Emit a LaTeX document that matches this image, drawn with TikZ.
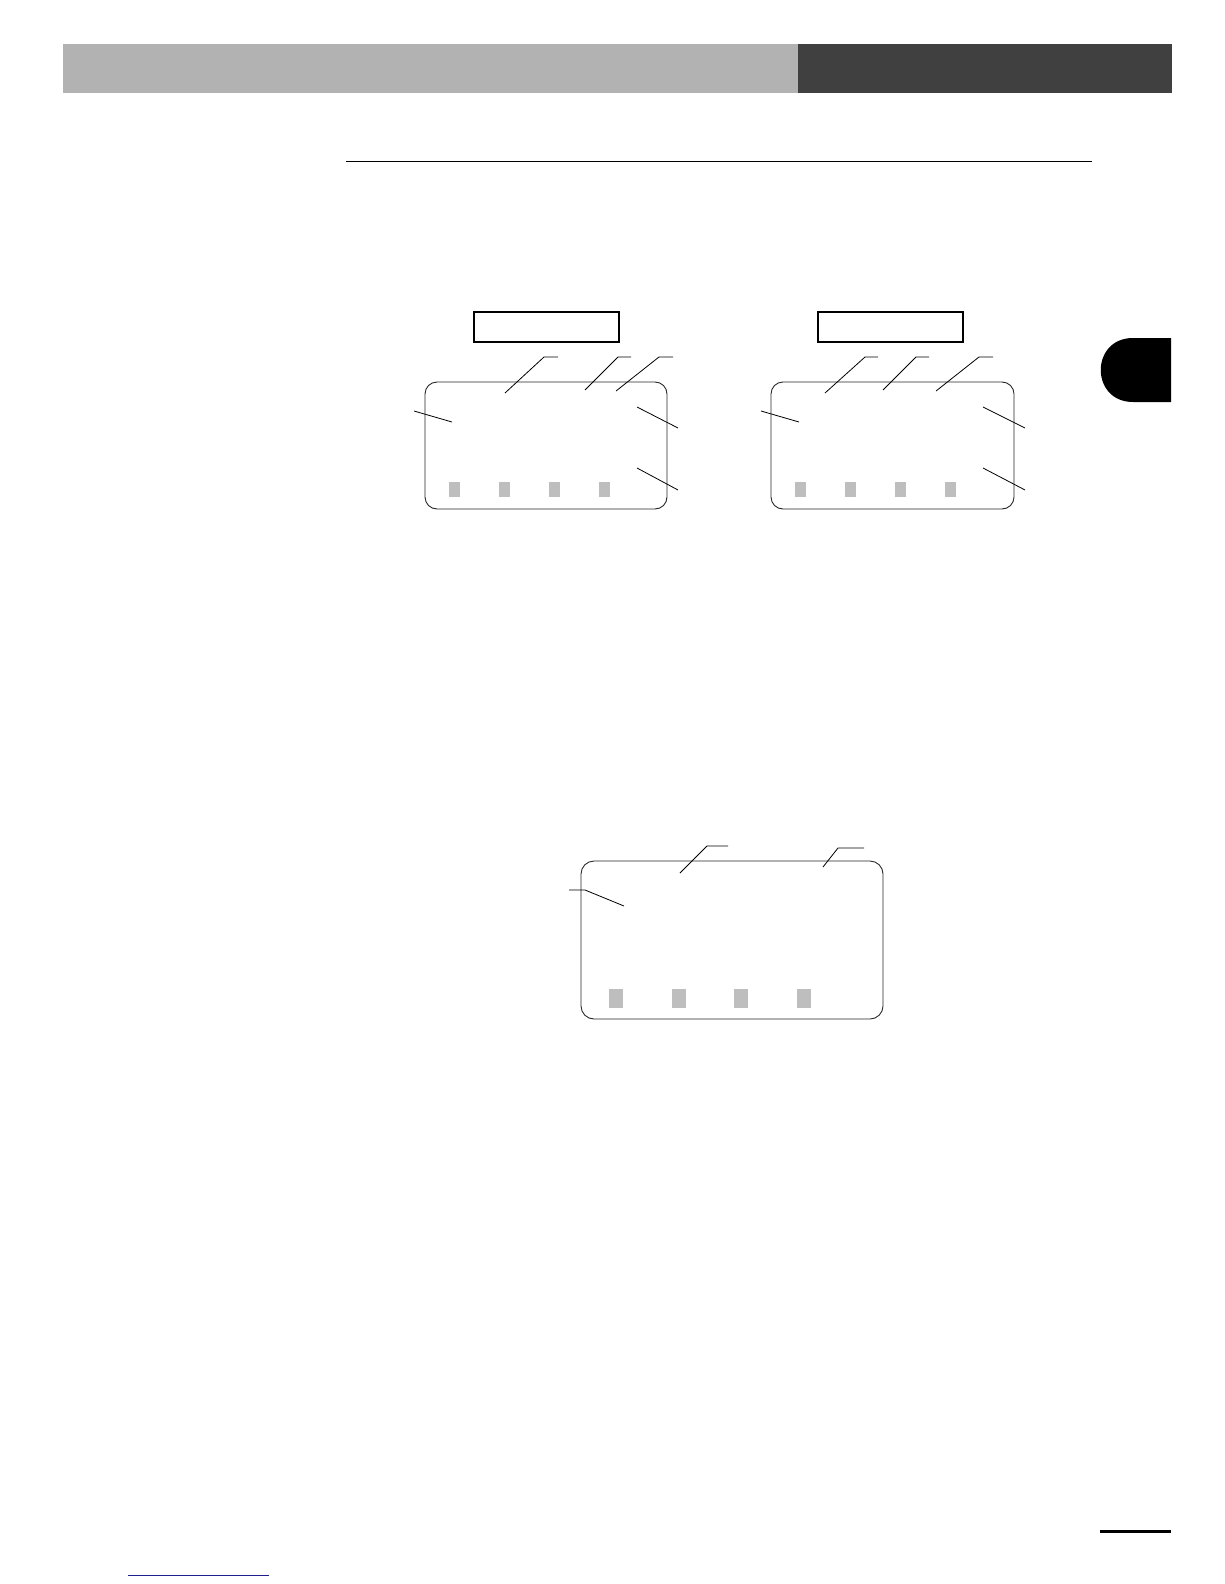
\documentclass[tikz,border=0pt]{standalone}
\usetikzlibrary{positioning}
\definecolor{headgray}{RGB}{178,178,178}
\definecolor{headdark}{RGB}{64,64,64}
\definecolor{keygray}{RGB}{190,190,190}
\definecolor{linkblue}{RGB}{30,30,140}
\tikzset{
  screen/.style={draw=black!85, line width=0.9pt, rounded corners=12pt, inner sep=0pt, outer sep=0pt},
  titlebox/.style={draw, line width=1.6pt, inner sep=0pt, outer sep=0pt, minimum height=30pt},
  key/.style={fill=keygray, inner sep=0pt, outer sep=0pt},
  leader/.style={draw, line width=0.8pt}
}
\begin{document}
\begin{tikzpicture}[x=1pt,y=-1pt]
\path[use as bounding box] (0,0) rectangle (1224,1584);

% page header
\fill[headgray] (62.6,44.4) rectangle (797.8,92.9);
\fill[headdark] (797.8,44.4) rectangle (1171.5,92.9);
\draw[line width=0.9pt] (346,161.6) -- (1092,161.6);
\fill (1171,338) -- (1133,338) .. controls (1090,338) and (1090,402) .. (1133,402) -- (1171,402) -- cycle;

% left display
\node[titlebox, minimum width=145pt] (tA) at (546.5,327) {};
\node[screen, minimum width=242pt, minimum height=127pt] (scrA) at (546,445.5) {};
\node[key, minimum width=11pt, minimum height=15pt] (kA1) at (454.5,489.5) {};
\node[key, minimum width=11pt, minimum height=15pt] (kA2) at (504.5,489.5) {};
\node[key, minimum width=11pt, minimum height=15pt] (kA3) at (554.5,489.5) {};
\node[key, minimum width=11pt, minimum height=15pt] (kA4) at (604.5,489.5) {};
\coordinate (a1) at (505,393);  \coordinate (a1e) at (544,357); \coordinate (a1f) at (558,357);
\coordinate (a2) at (585,390);  \coordinate (a2e) at (618,357); \coordinate (a2f) at (631,357);
\coordinate (a3) at (616,391);  \coordinate (a3e) at (659,357); \coordinate (a3f) at (673,357);
\coordinate (a4) at (452,422);  \coordinate (a4f) at (414,411);
\coordinate (a5) at (637,407);  \coordinate (a5f) at (678,428);
\coordinate (a6) at (637,468);  \coordinate (a6f) at (678,490);
\path[leader] (a1) -- (a1e) -- (a1f);
\path[leader] (a2) -- (a2e) -- (a2f);
\path[leader] (a3) -- (a3e) -- (a3f);
\path[leader] (a4) -- (a4f);
\path[leader] (a5) -- (a5f);
\path[leader] (a6) -- (a6f);

% right display
\node[titlebox, minimum width=145pt] (tB) at (890.5,327) {};
\node[screen, minimum width=243pt, minimum height=127pt] (scrB) at (892.5,445.5) {};
\node[key, minimum width=11pt, minimum height=15pt] (kB1) at (454.5+346,489.5) {};
\node[key, minimum width=11pt, minimum height=15pt] (kB2) at (504.5+346,489.5) {};
\node[key, minimum width=11pt, minimum height=15pt] (kB3) at (554.5+346,489.5) {};
\node[key, minimum width=11pt, minimum height=15pt] (kB4) at (604.5+346,489.5) {};
\coordinate (b1) at (825,393);  \coordinate (b1e) at (865,357); \coordinate (b1f) at (878,357);
\coordinate (b2) at (883,390);  \coordinate (b2e) at (916,357); \coordinate (b2f) at (929,357);
\coordinate (b3) at (936,391);  \coordinate (b3e) at (979,357); \coordinate (b3f) at (993,357);
\coordinate (b4) at (452+347,422);  \coordinate (b4f) at (414+347,411);
\coordinate (b5) at (637+346,407);  \coordinate (b5f) at (678+347,428);
\coordinate (b6) at (637+346,468);  \coordinate (b6f) at (678+347,490);
\path[leader] (b1) -- (b1e) -- (b1f);
\path[leader] (b2) -- (b2e) -- (b2f);
\path[leader] (b3) -- (b3e) -- (b3f);
\path[leader] (b4) -- (b4f);
\path[leader] (b5) -- (b5f);
\path[leader] (b6) -- (b6f);

% lower display
\node[screen, rounded corners=13pt, minimum width=302pt, minimum height=158pt] (scrC) at (732,940) {};
\node[key, minimum width=14pt, minimum height=19pt] (kC1) at (616,998.5) {};
\node[key, minimum width=14pt, minimum height=19pt] (kC2) at (678.5,998.5) {};
\node[key, minimum width=14pt, minimum height=19pt] (kC3) at (741,998.5) {};
\node[key, minimum width=14pt, minimum height=19pt] (kC4) at (803.5,998.5) {};
\coordinate (c1) at (680,873);  \coordinate (c1e) at (707,846); \coordinate (c1f) at (728,846);
\coordinate (c2) at (823,867);  \coordinate (c2e) at (838,848); \coordinate (c2f) at (864,848);
\coordinate (c3) at (624,906);  \coordinate (c3e) at (585,890); \coordinate (c3f) at (569,890);
\path[leader] (c1) -- (c1e) -- (c1f);
\path[leader] (c2) -- (c2e) -- (c2f);
\path[leader] (c3) -- (c3e) -- (c3f);

% page footer
\draw[line width=3pt] (1100,1531) -- (1171,1531);
\draw[linkblue, line width=1pt] (128,1575) -- (269,1575);
\end{tikzpicture}
\end{document}
